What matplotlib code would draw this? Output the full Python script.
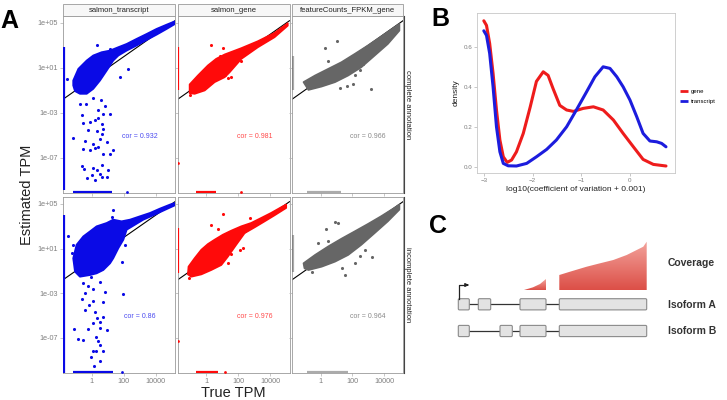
import matplotlib.pyplot as plt
import numpy as np
from matplotlib.patches import Polygon, Rectangle, FancyBboxPatch
from matplotlib.lines import Line2D

plt.rcParams['font.family'] = ['Liberation Sans', 'DejaVu Sans']

# ---------------- data: panel A (log10 values) ----------------
methods = ['salmon_transcript', 'salmon_gene', 'featureCounts_FPKM_gene']
annotations = ['complete annotation', 'incomplete annotation']
method_colors = ['#0a0ae6', '#ff0a0a', '#666666']
cor_colors = ['#4a4af0', '#ff4a4a', '#8a8a8a']
cor_values = [['0.932', '0.981', '0.966'], ['0.86', '0.976', '0.964']]

x_ticks = [1, 100, 10000]
x_tick_labels = ['1', '100', '10000']
y_ticks = [1e5, 1e1, 1e-3, 1e-7]
y_tick_labels = ['1e+05', '1e+01', '1e-03', '1e-07']
log_xlim = (-1.8, 5.2)
log_ylim = (-10.15, 5.62)

# dense clouds, outline of the overplotted region (log10 true, log10 estimated)
tx_complete_cloud = [(-1.16, -0.13), (-0.84, 0.91), (-0.32, 1.65), (0.09, 2.10), (0.61, 2.39),
                     (1.14, 2.54), (1.66, 2.84), (2.18, 3.13), (2.80, 3.58), (3.43, 4.02),
                     (4.05, 4.47), (4.68, 4.85), (5.20, 5.15), (5.20, 4.91), (4.68, 4.47),
                     (4.05, 3.96), (3.43, 3.49), (2.80, 2.99), (2.18, 2.54), (1.66, 2.10),
                     (1.34, 1.65), (0.93, 0.76), (0.51, -0.13), (0.09, -0.87), (-0.32, -1.31),
                     (-0.74, -1.31), (-1.05, -1.07), (-1.16, -0.57)]
gene_complete_cloud = [(-1.05, -0.48), (-0.53, 0.32), (0.09, 1.21), (0.61, 1.80), (1.14, 2.19),
                       (2.18, 2.75), (3.22, 3.37), (4.26, 4.11), (5.09, 4.97), (5.09, 4.76),
                       (4.26, 3.73), (3.22, 2.84), (2.18, 1.80), (1.45, 0.61), (1.14, 0.17),
                       (0.51, -0.27), (-0.11, -1.01), (-0.74, -1.31), (-1.05, -1.25)]
fc_complete_cloud = [(-1.07, -0.27), (-0.34, 0.32), (0.49, 0.91), (1.32, 1.50), (2.16, 2.24),
                     (2.99, 2.99), (3.82, 3.79), (4.66, 4.61), (4.97, 4.91), (4.97, 4.32),
                     (4.24, 3.13), (3.41, 2.10), (2.57, 1.06), (1.74, 0.32), (0.91, -0.27),
                     (0.07, -0.66), (-0.76, -0.96)]
tx_incomplete_cloud = [(-1.16, 0.13), (-0.95, 1.34), (-0.53, 2.09), (-0.11, 2.54), (0.30, 2.99),
                       (0.93, 3.29), (1.34, 3.59), (1.86, 3.44), (2.39, 3.59), (3.01, 3.89),
                       (3.64, 4.19), (4.26, 4.58), (4.89, 4.94), (5.20, 5.09), (5.20, 4.88),
                       (4.47, 4.40), (3.84, 3.98), (3.22, 3.59), (2.70, 3.14), (2.18, 2.69),
                       (1.97, 1.79), (1.66, 1.04), (1.34, 0.13), (1.14, -0.32), (0.72, -0.92),
                       (0.30, -1.22), (-0.11, -1.37), (-0.74, -1.52), (-1.05, -1.07)]
gene_incomplete_cloud = [(-1.12, -0.62), (-0.74, 0.13), (-0.32, 0.89), (0.09, 1.40), (0.51, 1.79),
                         (1.03, 2.24), (1.55, 2.60), (2.18, 2.99), (2.80, 3.29), (3.43, 3.74),
                         (4.05, 4.19), (4.68, 4.70), (4.99, 4.94), (4.99, 4.64), (4.26, 3.98),
                         (3.64, 3.44), (3.01, 2.90), (2.39, 2.39), (1.86, 1.34), (1.34, 0.28),
                         (0.93, -0.47), (0.30, -0.92), (-0.32, -1.31), (-0.95, -1.52), (-1.16, -1.31)]
fc_incomplete_cloud = [(-1.07, -0.32), (-0.34, 0.43), (0.49, 1.19), (1.32, 1.88), (2.16, 2.54),
                       (2.99, 3.20), (3.82, 3.89), (4.66, 4.64), (4.97, 4.94), (4.97, 4.49),
                       (4.24, 3.44), (3.41, 2.39), (2.57, 1.34), (1.74, 0.43), (0.91, -0.17),
                       (0.07, -0.62), (-0.76, -0.92), (-1.01, -0.77)]

# individual points outside the clouds
tx_complete_pts = [(-1.57, 0.02), (-0.64, 1.15), (0.30, 3.07), (1.14, 2.69), (2.28, 0.91),
                   (1.76, 0.17), (-0.74, -2.26), (-0.36, -2.26), (0.09, -1.67), (0.55, -1.84),
                   (0.82, -2.41), (0.41, -2.79), (-0.64, -3.24), (0.72, -3.09), (1.14, -3.09),
                   (-0.53, -3.92), (-0.11, -3.83), (0.22, -3.68), (0.41, -3.44), (0.61, -3.98),
                   (0.72, -4.48), (0.30, -4.63), (-0.22, -4.51), (0.61, -4.87), (0.51, -5.37),
                   (-1.16, -5.22), (-0.43, -5.52), (0.09, -5.76), (0.93, -5.61), (0.41, -6.05),
                   (-0.53, -6.20), (-0.11, -6.35), (0.20, -6.14), (1.34, -6.35), (0.72, -6.64),
                   (1.14, -6.64), (-0.64, -7.77), (-0.49, -7.98), (0.09, -7.89), (0.61, -7.68),
                   (0.30, -8.13), (1.03, -8.07), (0.51, -8.42), (-0.32, -8.78), (0.00, -8.57),
                   (0.61, -8.72), (0.20, -8.96), (0.93, -8.72)]
gene_complete_pts = [(0.26, 3.07), (1.03, 2.78), (0.82, 2.10), (1.14, 0.32), (1.34, 0.11),
                     (1.51, 0.17), (2.18, 1.59), (-1.05, -1.46)]
fc_complete_pts = [(0.28, 2.75), (1.01, 3.43), (0.49, 1.65), (1.22, -0.78), (1.64, -0.66),
                   (2.05, -0.42), (2.16, 0.32), (2.47, 0.82), (2.68, 1.36), (2.82, 1.65),
                   (3.20, -0.87)]
tx_incomplete_pts = [(1.34, 4.49), (1.24, 3.80), (-1.47, 2.09), (-1.16, 1.34), (-1.26, 0.59),
                     (-1.12, -0.02), (2.07, 1.34), (1.86, -0.17), (1.97, -3.08), (-0.07, -1.52),
                     (-0.53, -2.12), (-0.22, -2.33), (0.51, -2.03), (0.07, -2.63), (0.82, -2.87),
                     (-0.43, -3.02), (-0.64, -3.53), (0.09, -3.71), (0.72, -3.83), (-0.16, -4.07),
                     (-0.43, -4.52), (0.20, -4.67), (0.34, -5.21), (0.72, -5.12), (0.51, -5.57),
                     (0.09, -5.63), (-1.12, -6.23), (-0.22, -6.23), (0.93, -6.32), (0.51, -6.11),
                     (0.26, -6.92), (-0.84, -7.13), (-0.53, -7.22), (0.41, -7.31), (0.51, -7.67),
                     (0.07, -8.15), (0.26, -8.15), (0.72, -8.15), (-0.07, -8.75), (0.51, -9.05),
                     (0.14, -9.48)]
gene_incomplete_pts = [(1.03, 4.10), (0.26, 3.08), (0.72, 2.78), (2.70, 3.74), (1.34, 1.04),
                       (1.55, 0.49), (2.07, 0.89), (2.28, 1.04), (1.34, -0.32), (-1.12, -1.61)]
fc_incomplete_pts = [(0.91, 3.38), (1.07, 3.29), (0.32, 2.75), (0.49, 1.64), (-0.14, 1.49),
                     (1.37, -0.71), (1.53, -1.37), (2.16, -0.32), (2.47, 0.37), (2.82, 0.88),
                     (3.24, 0.28), (-0.55, -1.13)]

# zeros: true TPM = 0 (left edge, range of log10 estimate) and estimate = 0 (bottom edge)
zero_true_ranges = [[(-9.9, 2.84), (-1.01, 2.84), (-1.0, 2.1)],
                    [(-10.2, 4.04), (-1.22, 2.84), (-1.07, 2.24)]]
zero_true_single = [[[], [-7.47], []], [[], [-7.31], []]]
zero_est_ranges = [[(-1.16, 1.24), (-0.64, 0.61), (-0.86, 1.32)],
                   [(-1.16, 1.34), (-0.64, 0.72), (-0.86, 1.74)]]
zero_est_single = [[[2.18], [2.18], []], [[1.9], [1.14], []]]

clouds = [[tx_complete_cloud, gene_complete_cloud, fc_complete_cloud],
          [tx_incomplete_cloud, gene_incomplete_cloud, fc_incomplete_cloud]]
points = [[tx_complete_pts, gene_complete_pts, fc_complete_pts],
          [tx_incomplete_pts, gene_incomplete_pts, fc_incomplete_pts]]

# ---------------- data: panel B (density curves) ----------------
gene_cv = [-3.0, -2.945, -2.88, -2.81, -2.74, -2.67, -2.60, -2.52, -2.43, -2.33, -2.19, -2.05,
           -1.92, -1.78, -1.68, -1.58, -1.44, -1.30, -1.16, -0.96, -0.75, -0.55, -0.34, -0.14,
           0.07, 0.27, 0.48, 0.74]
gene_density = [0.733, 0.71, 0.62, 0.47, 0.287, 0.137, 0.053, 0.025, 0.037, 0.078, 0.17, 0.30,
                0.43, 0.478, 0.46, 0.395, 0.31, 0.287, 0.28, 0.295, 0.303, 0.287, 0.237, 0.17,
                0.103, 0.04, 0.015, 0.007]
tx_cv = [-3.0, -2.945, -2.88, -2.81, -2.74, -2.67, -2.60, -2.50, -2.33, -2.12, -1.92, -1.71,
         -1.51, -1.30, -1.10, -0.89, -0.72, -0.55, -0.41, -0.27, -0.14, 0.0, 0.14, 0.27, 0.41,
         0.55, 0.65, 0.74]
tx_density = [0.683, 0.66, 0.57, 0.403, 0.203, 0.078, 0.02, 0.008, 0.007, 0.02, 0.053, 0.09,
              0.137, 0.203, 0.287, 0.378, 0.453, 0.503, 0.495, 0.453, 0.403, 0.337, 0.253, 0.17,
              0.132, 0.128, 0.12, 0.103]

# ---------------- data: panel C (gene model, pixel-like units) ----------------
isoform_a_exons = [(38.3, 49.3), (58.3, 70.7), (100.0, 126.0), (139.3, 226.7)]
isoform_b_exons = [(38.3, 49.3), (80.0, 92.3), (100.0, 126.0), (139.3, 226.7)]
cov_small_x = [104, 113, 120, 126, 126]
cov_small_h = [0, 2.7, 6, 11, 0]
cov_big_x = [139.3, 139.3, 150, 166.7, 180, 193.3, 206.7, 216.7, 223.3, 226.7, 226.7]
cov_big_h = [0, 15, 18.3, 23.3, 26.7, 30, 35, 40, 43.3, 48.3, 0]

W, H = 727, 400
fig = plt.figure(figsize=(7.27, 4.0), dpi=100)


def px_axes(x0, y0, x1, y1):
    return fig.add_axes([x0 / W, 1 - y1 / H, (x1 - x0) / W, (y1 - y0) / H])


# ================= panel A =================
col_x = [(63, 175), (177.7, 289.5), (292, 403)]
row_y = [(16, 193), (197, 373)]
grey_txt = '#7f7f7f'

for r in range(2):
    for c in range(3):
        col = method_colors[c]
        ax = px_axes(col_x[c][0], row_y[r][0], col_x[c][1], row_y[r][1])
        ax.set_xscale('log')
        ax.set_yscale('log')
        ax.set_xlim(10 ** log_xlim[0], 10 ** log_xlim[1])
        ax.set_ylim(10 ** log_ylim[0], 10 ** log_ylim[1])
        ax.plot(10 ** np.array(log_xlim), 10 ** np.array(log_xlim), color='black', lw=0.8, zorder=1)

        cl = 10 ** np.array(clouds[r][c])
        ax.add_patch(Polygon(cl, closed=True, fc=col, ec=col, lw=1.3, joinstyle='round', zorder=2))
        pts = np.array(points[r][c])
        ax.scatter(10 ** pts[:, 0], 10 ** pts[:, 1], s=5, color=col, lw=0, zorder=3)

        # zero strips
        xz = 10 ** (log_xlim[0] + 0.04)
        yz = 10 ** (log_ylim[0] + 0.07)
        a, b = zero_true_ranges[r][c]
        zalpha = 0.55 if c == 2 else 1.0
        ax.plot([xz, xz], [10 ** a, 10 ** b], color=col, lw=1.6, alpha=zalpha,
                solid_capstyle='butt', zorder=3)
        for v in zero_true_single[r][c]:
            ax.scatter([xz], [10 ** v], s=4, color=col, lw=0, zorder=3)
        a, b = zero_est_ranges[r][c]
        ax.plot([10 ** a, 10 ** b], [yz, yz], color=col, lw=1.6, alpha=zalpha,
                solid_capstyle='butt', zorder=3)
        for v in zero_est_single[r][c]:
            ax.scatter([10 ** v], [yz], s=4, color=col, lw=0, zorder=3)

        ax.text(10 ** 3.0, 10 ** -5.1, 'cor = ' + cor_values[r][c], color=cor_colors[c],
                fontsize=5, ha='center', va='center')

        ax.set_xticks(x_ticks)
        ax.set_yticks(y_ticks)
        ax.minorticks_off()
        ax.set_xticklabels(x_tick_labels if r == 1 else [])
        ax.set_yticklabels(y_tick_labels if c == 0 else [])
        ax.tick_params(labelsize=5.2, labelcolor=grey_txt, color='#b0b0b0', length=2,
                       width=0.5, pad=1.5)
        for s in ax.spines.values():
            s.set_color('#9a9a9a')
            s.set_linewidth(0.6)

        # column strips
        if r == 0:
            fig.patches.append(Rectangle((col_x[c][0] / W, 1 - 15.7 / H),
                                         (col_x[c][1] - col_x[c][0]) / W, 11.4 / H,
                                         transform=fig.transFigure, fc='#f7f7f7',
                                         ec='#9a9a9a', lw=0.6))
            fig.text((col_x[c][0] + col_x[c][1]) / 2 / W, 1 - 10 / H, methods[c],
                     fontsize=5.5, ha='center', va='center', color='#222222')
    # row strips
    fig.lines.append(Line2D([404 / W, 404 / W], [1 - row_y[r][0] / H, 1 - row_y[r][1] / H],
                            transform=fig.transFigure, color='#444444', lw=0.8))
    fig.text(408 / W, 1 - (row_y[r][0] + row_y[r][1]) / 2 / H, annotations[r], rotation=-90,
             fontsize=5.5, ha='center', va='center', color='#222222')

fig.text(27.5 / W, 1 - 195 / H, 'Estimated TPM', rotation=90, fontsize=10.5, ha='center',
         va='center', color='#222222')
fig.text(233 / W, 1 - 393 / H, 'True TPM', fontsize=10.5, ha='center', va='center', color='#222222')
fig.text(0.5 / W, 1 - 21.5 / H, 'A', fontsize=18, fontweight='bold', ha='left', va='center')
fig.text(431 / W, 1 - 19.5 / H, 'B', fontsize=18, fontweight='bold', ha='left', va='center')
fig.text(429 / W, 1 - 226 / H, 'C', fontsize=18, fontweight='bold', ha='left', va='center')

# ================= panel B =================
axb = px_axes(477, 13, 675, 173)
axb.plot(gene_cv, gene_density, color='#ee1c1c', lw=2.2, label='gene', solid_capstyle='round')
axb.plot(tx_cv, tx_density, color='#1c1cdd', lw=2.2, label='transcript', solid_capstyle='round')
axb.set_xlim(-3.14, 0.925)
axb.set_ylim(-0.028, 0.772)
axb.set_xticks([-3, -2, -1, 0])
axb.set_yticks([0.0, 0.2, 0.4, 0.6])
axb.set_yticklabels(['0.0', '0.2', '0.4', '0.6'])
axb.tick_params(labelsize=4.5, labelcolor=grey_txt, color='#b0b0b0', length=2, width=0.5, pad=1.5)
for s in axb.spines.values():
    s.set_color('#c8c8c8')
    s.set_linewidth(0.6)
axb.set_xlabel('log10(coefficient of variation + 0.001)', fontsize=6, labelpad=2, color='#222222')
axb.set_ylabel('density', fontsize=6, labelpad=3, color='#222222')
leg = axb.legend(loc='center left', bbox_to_anchor=(1.0, 0.48), frameon=False, fontsize=4.3,
                 handlelength=1.3, handletextpad=0.5, labelspacing=0.8)
for ln in leg.get_lines():
    ln.set_linewidth(2.0)
    ln.set_solid_capstyle('butt')

# ================= panel C =================
axc = px_axes(420, 200, 727, 400)
axc.set_xlim(0, 307)
axc.set_ylim(200, 0)
axc.axis('off')

base_y = 90
grad = np.linspace(0, 1, 100).reshape(-1, 1)
cmap = plt.matplotlib.colors.LinearSegmentedColormap.from_list('cov', ['#f3a39c', '#dc4f47'])
for xs, hs in [(cov_small_x, cov_small_h), (cov_big_x, cov_big_h)]:
    verts = [(x, base_y - h) for x, h in zip(xs, hs)]
    poly = Polygon(verts, closed=True, fc='none', ec='none')
    axc.add_patch(poly)
    im = axc.imshow(grad, cmap=cmap, aspect='auto', extent=(min(xs), max(xs), base_y, base_y - max(hs)),
                    zorder=2)
    im.set_clip_path(poly)
axc.set_xlim(0, 307)
axc.set_ylim(200, 0)

for exons, yc in [(isoform_a_exons, 104.3), (isoform_b_exons, 131.0)]:
    axc.plot([exons[0][1], exons[-1][0]], [yc, yc], color='#333333', lw=0.9, zorder=2)
    for x0, x1 in exons:
        axc.add_patch(FancyBboxPatch((x0, yc - 5.6), x1 - x0, 11.2,
                                     boxstyle='round,pad=0,rounding_size=1.2',
                                     fc='#e3e3e3', ec='#8a8a8a', lw=0.8, zorder=3))

axc.plot([38.8, 38.8, 45], [98.7, 85, 85], color='#222222', lw=0.9, zorder=3)
axc.annotate('', xy=(49, 85), xytext=(44, 85),
             arrowprops=dict(arrowstyle='-|>', color='#222222', lw=0.9, mutation_scale=5))

for txt, yy in [('Coverage', 63.5), ('Isoform A', 104.5), ('Isoform B', 131.0)]:
    axc.text(247.5, yy, txt, fontsize=7.5, fontweight='bold', color='#333333',
             ha='left', va='center')

fig.savefig('out.png', dpi=100)
